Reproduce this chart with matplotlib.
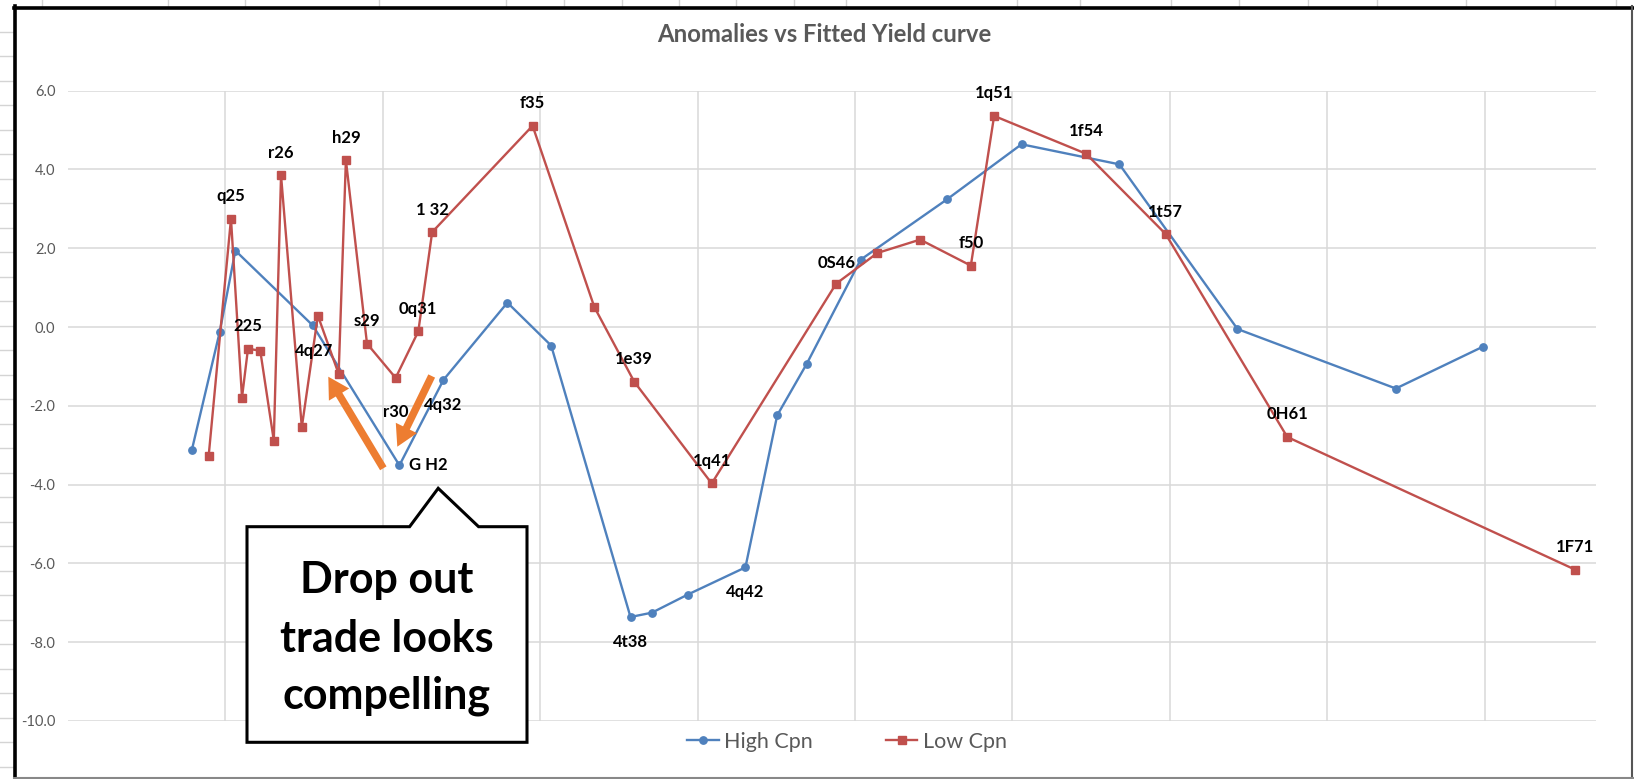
import matplotlib
matplotlib.use("Agg")
import matplotlib.pyplot as plt
from matplotlib.transforms import Affine2D
from matplotlib.patches import FancyArrowPatch, Polygon
from matplotlib.lines import Line2D

# ---------------- data ----------------
TITLE = "Anomalies vs Fitted Yield curve"
series_names = ["High Cpn", "Low Cpn"]

high_x = [3.94, 4.82, 5.32, 7.78, 10.53, 11.93, 13.96, 15.35, 17.87, 18.55, 19.69,
          21.52, 22.53, 23.47, 25.18, 27.92, 30.29, 33.40, 37.15, 42.18, 44.94]
high_y = [-3.11, -0.13, 1.94, 0.04, -3.51, -1.34, 0.62, -0.47, -7.36, -7.25, -6.79,
          -6.10, -2.24, -0.93, 1.71, 3.24, 4.64, 4.13, -0.05, -1.56, -0.50]
high_labels = ["", "", "", "", "G H2", "4q32", "", "", "4t38", "", "",
               "4q42", "", "", "0S46", "", "", "", "", "", ""]

low_x = [4.47, 5.18, 5.53, 5.72, 6.11, 6.54, 6.77, 7.43, 7.94, 8.60, 8.83, 9.50,
         10.41, 11.13, 11.57, 14.76, 16.72, 17.99, 20.45, 24.40, 25.71, 27.07,
         28.68, 29.42, 32.34, 34.87, 38.73, 47.88]
low_y = [-3.28, 2.75, -1.79, -0.55, -0.60, -2.88, 3.85, -2.54, 0.29, -1.19, 4.24, -0.42,
         -1.29, -0.11, 2.41, 5.11, 0.51, -1.39, -3.97, 1.10, 1.88, 2.22,
         1.56, 5.36, 4.40, 2.36, -2.79, -6.16]
low_labels = ["", "q25", "", "225", "", "", "r26", "", "4q27", "", "h29", "s29",
              "r30", "0q31", "1 32", "f35", "", "1e39", "1q41", "", "", "",
              "f50", "1q51", "1f54", "1t57", "0H61", "1F71"]

y_ticks = [-10, -8, -6, -4, -2, 0, 2, 4, 6]
x_grid = [5, 10, 15, 20, 25, 30, 35, 40, 45]
callout_lines = ["Drop out", "trade looks", "compelling"]

# ---------------- style ----------------
plt.rcParams['font.family'] = ['Lato', 'DejaVu Sans']
W, H = 1634, 779
BLUE, RED, ORANGE, GREY = '#4F81BD', '#C0504D', '#ED7D31', '#595959'

fig = plt.figure(figsize=(W / 100, H / 100), dpi=100)
fig.patch.set_facecolor('white')
T = Affine2D().scale(1 / W, -1 / H).translate(0, 1) + fig.transFigure  # top-left pixel coords

ax = fig.add_axes([67.9 / W, 1 - 721 / H, (1596.4 - 67.9) / W, (721 - 90.7) / H])
ax.set_xlim(0, 48.55)
ax.set_ylim(-10, 6)
ax.set_xticks(x_grid)
ax.set_xticklabels([])
ax.set_yticks(y_ticks)
ax.set_yticklabels([f"{v:.1f}" for v in y_ticks], color=GREY, fontsize=10.5)
ax.tick_params(length=0, pad=9)
ax.grid(True, color='#D9D9D9', lw=1.1)
ax.set_axisbelow(True)
for s in ax.spines.values():
    s.set_visible(False)

ax.plot(high_x, high_y, color=BLUE, lw=1.7, marker='o', ms=5.3, zorder=3,
        label=series_names[0])
ax.plot(low_x, low_y, color=RED, lw=1.7, marker='s', ms=5.8, zorder=4,
        label=series_names[1])

# label placements (pixel offsets)
special = {
    "4q27": (-4, -35, 'center'),
    "r30": (0, -34, 'center'),
    "4q32": (0, -25, 'center'),
    "4t38": (0, -25, 'center'),
    "4q42": (0, -25, 'center'),
    "G H2": (10, 0, 'left'),
    "0S46": (-5, -3, 'right'),
}


def put_labels(xs, ys, labels):
    for x, y, t in zip(xs, ys, labels):
        if not t:
            continue
        dx, dy, ha = special.get(t, (0, 22.5, 'center'))
        ax.annotate(t, (x, y), xytext=(dx, dy), textcoords='offset pixels',
                    ha=ha, va='center', fontsize=12, fontweight='bold',
                    color='black', zorder=6, annotation_clip=False)


put_labels(high_x, high_y, high_labels)
put_labels(low_x, low_y, low_labels)

leg = ax.legend(loc='center', bbox_to_anchor=(847 / W, 1 - 741.7 / H),
                bbox_transform=fig.transFigure, ncol=2, frameon=False, fontsize=15.5,
                handlelength=1.45, handletextpad=0.25, columnspacing=3.4,
                labelcolor=GREY)

fig.text(824.5 / W, 1 - 35 / H, TITLE, ha='center', va='center', fontsize=17.2,
         fontweight='bold', color=GREY)

# ---------------- callout ----------------
box = [(247, 526.7), (409.6, 526.7), (438.2, 488.3), (478.6, 526.7),
       (527, 526.7), (527, 742.3), (247, 742.3)]
fig.add_artist(Polygon(box, closed=True, transform=T, facecolor='white',
                       edgecolor='black', lw=2.2, zorder=5))
for s, yb in zip(callout_lines, [593.3, 651.7, 708.3]):
    fig.text(387, yb, s, transform=T, ha='center', va='baseline', fontsize=31,
             fontweight='bold', color='black', zorder=6)

for a, b in [((383.3, 468.3), (328.3, 376.7)), ((431.7, 376.0), (397.3, 446.7))]:
    fig.add_artist(FancyArrowPatch(a, b, transform=T, mutation_scale=1,
                                   arrowstyle='simple,head_length=15,head_width=17,tail_width=5.4',
                                   color=ORANGE, lw=0, shrinkA=0, shrinkB=0, zorder=7))

# ---------------- spreadsheet frame ----------------
for xc in [42, 168, 245, 379, 506, 564, 622, 679, 736, 794, 846, 1017, 1080,
           1171, 1239, 1308, 1377, 1466, 1555, 1616]:
    fig.add_artist(Line2D([xc, xc], [0, 6], transform=T, color='#D4D4D4', lw=1))
yr = 31.7
while yr < H:
    fig.add_artist(Line2D([0, 13], [yr, yr], transform=T, color='#D4D4D4', lw=1))
    yr += 24.5
fig.add_artist(Line2D([15.3, 15.3], [6.5, 779], transform=T, color='black', lw=2.6))
fig.add_artist(Line2D([14, 1633], [7.7, 7.7], transform=T, color='black', lw=2.6))
fig.add_artist(Line2D([1632.5, 1632.5], [6.5, 779], transform=T, color='#555555', lw=1.5))
fig.add_artist(Line2D([14, 1634], [778, 778], transform=T, color='#888888', lw=1.5))

fig.savefig("out.png", dpi=100, facecolor='white')
